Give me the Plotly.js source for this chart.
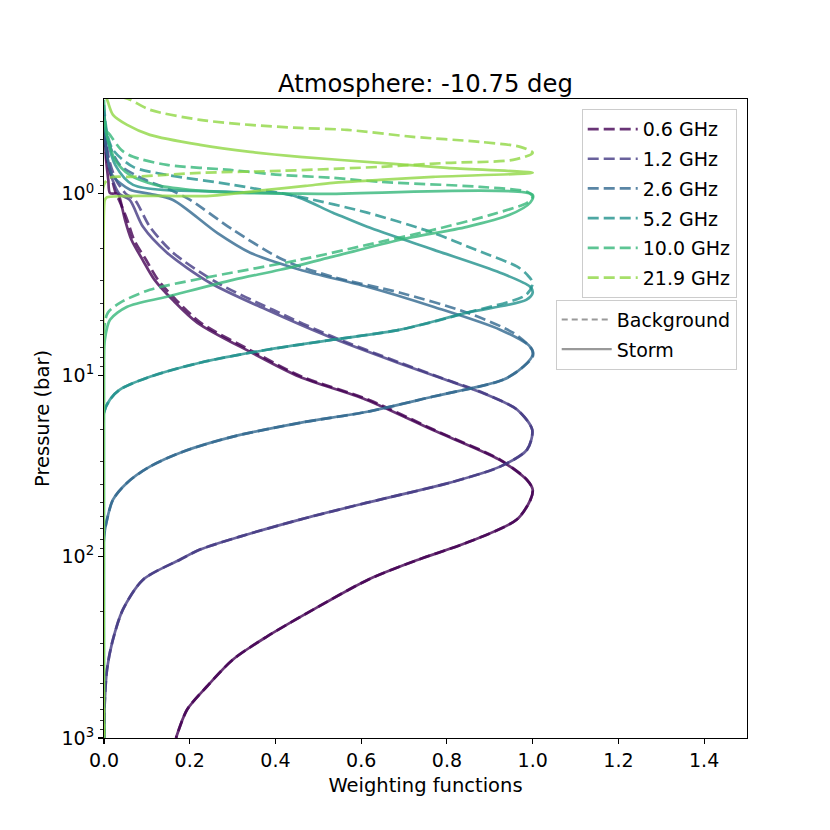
<!DOCTYPE html>
<html>
<head>
<meta charset="utf-8">
<script src="https://cdn.plot.ly/plotly-3.0.1.min.js"></script>
<style>
  body { margin: 0; background: white; }
  #chart { width: 830px; height: 830px; }
</style>
</head>
<body>
<div id="chart"></div>
<script>
const freqLabels = ['0.6 GHz', '1.2 GHz', '2.6 GHz', '5.2 GHz', '10.0 GHz', '21.9 GHz'];
const lineColors = ['#440154', '#443983', '#31688e', '#21918c', '#35b779', '#90d743'];

// weighting functions, pressure in bar
const p06Back = [0.391, 0.504, 0.650, 0.837, 1.0, 1.08, 1.39, 1.79, 2.31, 2.98, 3.84, 5.14, 7.52, 10.2, 13.6, 20.0, 29.2, 37.7, 42.7, 48.5, 62.5, 83.7, 104, 134, 196, 276, 369, 520, 697, 1000];
const w06Back = [0, 0.002, 0.007, 0.019, 0.028, 0.035, 0.054, 0.070, 0.098, 0.126, 0.168, 0.226, 0.353, 0.462, 0.616, 0.770, 0.924, 0.987, 1.0, 0.995, 0.963, 0.847, 0.733, 0.616, 0.488, 0.380, 0.301, 0.240, 0.194, 0.168];
const p06Storm = [0.391, 0.650, 0.837, 0.99, 1.0, 1.08, 1.39, 1.79, 2.31, 2.98, 3.84, 5.14, 7.52, 10.2, 13.6, 20.0, 29.2, 37.7, 42.7, 48.5, 62.5, 83.7, 104, 134, 196, 276, 369, 520, 697, 1000];
const w06Storm = [0, 0.005, 0.010, 0.014, 0.033, 0.038, 0.049, 0.064, 0.090, 0.118, 0.160, 0.218, 0.345, 0.456, 0.610, 0.766, 0.922, 0.986, 1.0, 0.995, 0.963, 0.847, 0.733, 0.616, 0.488, 0.380, 0.301, 0.240, 0.194, 0.168];

const p12Back = [0.367, 0.504, 0.650, 0.837, 1.0, 1.08, 1.52, 2.11, 3.09, 4.36, 6.14, 8.53, 10.6, 12.5, 15.5, 20.0, 25.7, 31.9, 39.1, 50.4, 62.5, 77.6, 91.5, 104, 134, 196, 298, 419, 613, 1000];
const w12Back = [0, 0.005, 0.012, 0.028, 0.051, 0.072, 0.107, 0.161, 0.264, 0.394, 0.534, 0.691, 0.800, 0.884, 0.964, 0.999, 0.987, 0.924, 0.807, 0.614, 0.457, 0.317, 0.224, 0.177, 0.091, 0.044, 0.019, 0.007, 0.002, 0];
const p12Storm = p12Back;
const w12Storm = [0, 0.004, 0.009, 0.020, 0.036, 0.060, 0.091, 0.147, 0.247, 0.380, 0.525, 0.685, 0.797, 0.882, 0.964, 0.999, 0.987, 0.924, 0.807, 0.614, 0.457, 0.317, 0.224, 0.177, 0.091, 0.044, 0.019, 0.007, 0.002, 0];

const p26Back = [0.344, 0.504, 0.692, 0.837, 0.950, 1.08, 1.58, 2.31, 2.87, 3.51, 4.52, 5.83, 7.24, 7.91, 8.98, 10.6, 13.1, 15.9, 18.3, 21.8, 26.4, 31.9, 39.1, 48.5, 62.5, 77.6, 1000];
const w26Back = [0, 0.009, 0.037, 0.096, 0.154, 0.201, 0.301, 0.418, 0.534, 0.691, 0.847, 0.954, 0.999, 1.0, 0.978, 0.931, 0.768, 0.614, 0.457, 0.301, 0.184, 0.107, 0.054, 0.021, 0.007, 0, 0];
const p26Storm = [0.391, 0.572, 0.786, 0.950, 1.0, 1.08, 1.64, 2.11, 2.62, 3.25, 4.19, 5.61, 6.97, 7.71, 8.98, 10.6, 13.1, 15.9, 18.3, 21.8, 26.4, 31.9, 39.1, 48.5, 62.5, 77.6, 1000];
const w26Storm = [0, 0.005, 0.019, 0.061, 0.107, 0.161, 0.264, 0.341, 0.457, 0.614, 0.768, 0.924, 0.994, 1.0, 0.978, 0.931, 0.768, 0.614, 0.457, 0.301, 0.184, 0.107, 0.054, 0.021, 0.007, 0, 0];

const p52Back = [0.323, 0.461, 0.572, 0.710, 0.786, 0.892, 1.04, 1.27, 1.64, 2.03, 2.52, 2.79, 3.09, 3.60, 4.52, 5.61, 6.37, 7.24, 8.53, 10.2, 12.0, 13.6, 16.1, 1000];
const w52Back = [0, 0.007, 0.021, 0.068, 0.147, 0.301, 0.457, 0.614, 0.768, 0.866, 0.964, 0.987, 1.0, 0.985, 0.847, 0.691, 0.534, 0.380, 0.224, 0.107, 0.037, 0.014, 0, 0];
const p52Storm = [0.391, 0.491, 0.692, 0.892, 0.975, 1.01, 1.27, 1.52, 2.03, 2.72, 3.25, 3.51, 3.84, 4.52, 5.61, 6.37, 7.24, 8.53, 10.2, 12.0, 13.6, 16.1, 1000];
const w52Storm = [0, 0.007, 0.026, 0.068, 0.294, 0.434, 0.534, 0.614, 0.768, 0.924, 0.994, 1.0, 0.985, 0.847, 0.691, 0.534, 0.380, 0.224, 0.107, 0.037, 0.014, 0, 0];

const p100Back = [0.303, 0.444, 0.473, 0.572, 0.625, 0.692, 0.738, 0.786, 0.816, 0.859, 0.915, 0.975, 1.04, 1.12, 1.31, 1.58, 1.91, 2.31, 2.94, 3.38, 3.99, 4.52, 5.61, 1000];
const w100Back = [0, 0.005, 0.014, 0.040, 0.068, 0.147, 0.294, 0.411, 0.534, 0.644, 0.877, 0.987, 1.0, 0.987, 0.900, 0.768, 0.614, 0.457, 0.224, 0.107, 0.037, 0.009, 0, 0];
const p100Storm = [0.391, 0.504, 0.650, 0.786, 0.892, 0.950, 0.985, 1.0, 1.012, 1.12, 1.31, 1.52, 1.79, 2.22, 2.62, 2.98, 3.69, 4.19, 4.95, 6.37, 8.22, 1000];
const w100Storm = [0, 0.009, 0.026, 0.06, 0.12, 0.2, 0.3, 0.5, 1.0, 0.994, 0.945, 0.847, 0.691, 0.534, 0.411, 0.301, 0.147, 0.054, 0.014, 0.002, 0, 0];

const p219Back = [0.292, 0.303, 0.344, 0.391, 0.417, 0.433, 0.444, 0.485, 0.517, 0.551, 0.594, 0.650, 0.675, 0.710, 0.747, 0.766, 0.806, 0.815, 0.892, 1000];
const w219Back = [0.040, 0.061, 0.107, 0.224, 0.341, 0.457, 0.567, 0.721, 0.877, 0.971, 1.0, 0.954, 0.800, 0.644, 0.411, 0.224, 0.068, 0.014, 0, 0];
const p219Storm = [0.292, 0.311, 0.367, 0.417, 0.473, 0.537, 0.587, 0.625, 0.675, 0.719, 0.766, 0.806, 0.837, 0.870, 0.904, 0.950, 1.025, 1.045, 1.08, 1.22, 1000];
const w219Storm = [0.005, 0.009, 0.021, 0.054, 0.107, 0.224, 0.341, 0.457, 0.644, 0.800, 1.0, 0.768, 0.644, 0.534, 0.470, 0.380, 0.247, 0.007, 0.002, 0, 0];

const backP = [p06Back, p12Back, p26Back, p52Back, p100Back, p219Back];
const backW = [w06Back, w12Back, w26Back, w52Back, w100Back, w219Back];
const stormP = [p06Storm, p12Storm, p26Storm, p52Storm, p100Storm, p219Storm];
const stormW = [w06Storm, w12Storm, w26Storm, w52Storm, w100Storm, w219Storm];

const dashStyle = '11px,5px';
let traces = [];

for (let i = 0; i < freqLabels.length; i++) {
  traces.push({
    x: backW[i], y: backP[i], type: 'scatter', mode: 'lines',
    name: freqLabels[i], legendgroup: 'f' + i,
    line: {color: lineColors[i], width: 2.7, dash: dashStyle, shape: 'spline', smoothing: 0.8},
    opacity: 0.8
  });
  traces.push({
    x: stormW[i], y: stormP[i], type: 'scatter', mode: 'lines',
    name: freqLabels[i] + ' storm', legendgroup: 'f' + i, showlegend: false,
    line: {color: lineColors[i], width: 2.7, shape: 'spline', smoothing: 0.8},
    opacity: 0.8
  });
}

// style keys for the second legend
traces.push({
  x: [null], y: [null], type: 'scatter', mode: 'lines', name: 'Background',
  legend: 'legend2', legendgroup: 'bg',
  line: {color: 'gray', width: 2.2, dash: '6px,4px'}, opacity: 0.8
});
traces.push({
  x: [null], y: [null], type: 'scatter', mode: 'lines', name: 'Storm',
  legend: 'legend2', legendgroup: 'st',
  line: {color: 'gray', width: 2.2}, opacity: 0.8
});

const minorP = [0.4, 0.5, 0.6, 0.7, 0.8, 0.9, 2, 3, 4, 5, 6, 7, 8, 9, 20, 30, 40, 50, 60, 70, 80, 90, 200, 300, 400, 500, 600, 700, 800, 900];

const layout = {
  width: 830, height: 830,
  margin: {l: 104, r: 83, t: 99, b: 92},
  paper_bgcolor: 'white', plot_bgcolor: 'white',
  font: {family: 'DejaVu Sans, sans-serif', size: 19, color: 'black'},
  title: {
    text: 'Atmosphere: -10.75 deg', font: {size: 24.3},
    x: 0.5, xref: 'paper', xanchor: 'center',
    y: 1, yref: 'paper', yanchor: 'bottom', pad: {b: 7}
  },
  xaxis: {
    range: [0, 1.5], tickvals: [0, 0.2, 0.4, 0.6, 0.8, 1.0, 1.2, 1.4], tickformat: '.1f',
    ticks: 'outside', ticklen: 5, tickwidth: 1.1, tickcolor: 'black',
    showline: true, mirror: true, linecolor: 'black', linewidth: 1.1,
    showgrid: false, zeroline: false,
    title: {text: 'Weighting functions', font: {size: 19.5}, standoff: 8}
  },
  yaxis: {
    type: 'log', range: [3, Math.log10(0.3)], autorange: false,
    tickvals: [1, 10, 100, 1000],
    ticktext: ['10<sup>0</sup>', '10<sup>1</sup>', '10<sup>2</sup>', '10<sup>3</sup>'],
    ticks: 'outside', ticklen: 5, tickwidth: 1.1, tickcolor: 'black',
    minor: {tickvals: minorP, ticks: 'outside', ticklen: 3, tickwidth: 0.8, tickcolor: 'black', showgrid: false},
    showline: true, mirror: true, linecolor: 'black', linewidth: 1.1,
    showgrid: false, zeroline: false,
    title: {text: 'Pressure (bar)', font: {size: 19.5}, standoff: 6}
  },
  legend: {
    x: 0.984, y: 0.984, xanchor: 'right', yanchor: 'top',
    bgcolor: 'rgba(255,255,255,0.8)', bordercolor: '#cccccc', borderwidth: 1,
    font: {size: 19}, tracegroupgap: 2, itemwidth: 50
  },
  legend2: {
    x: 0.984, y: 0.686, xanchor: 'right', yanchor: 'top',
    bgcolor: 'rgba(255,255,255,0.8)', bordercolor: '#cccccc', borderwidth: 1,
    font: {size: 19}, tracegroupgap: 2, itemwidth: 50
  },
  showlegend: true
};

Plotly.newPlot('chart', traces, layout, {displayModeBar: false, staticPlot: true});
</script>
</body>
</html>
